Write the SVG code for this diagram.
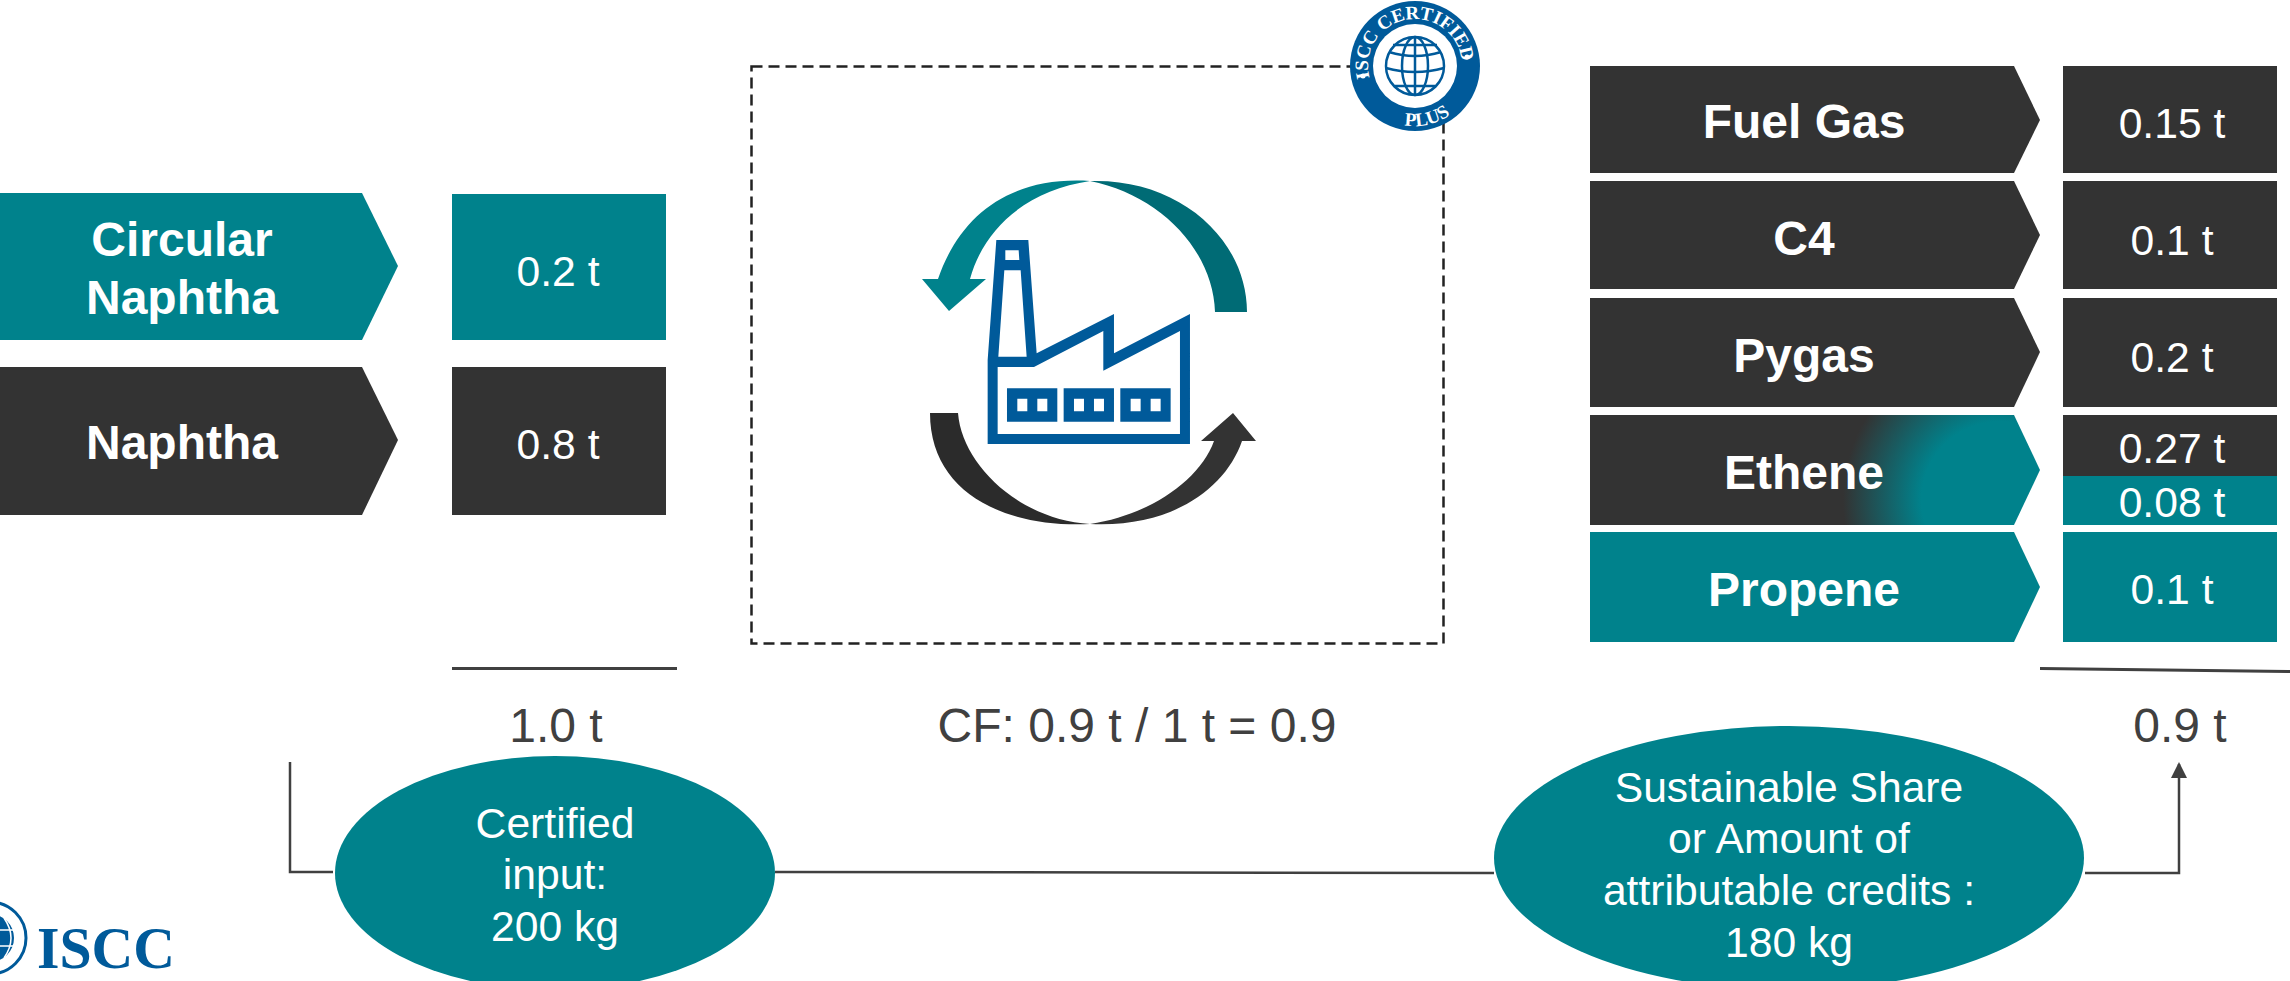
<svg xmlns="http://www.w3.org/2000/svg" width="2290" height="981" viewBox="0 0 2290 981">
<style>
text{font-family:"Liberation Sans",Arial,sans-serif;text-anchor:middle}
.lb{font-size:48px;font-weight:bold;fill:#fff}
.v{font-size:42.67px;fill:#fff}
.g{font-size:48px;fill:#404040}
.t{fill:#00828c}.d{fill:#333}
.c{fill:none;stroke:#404040;stroke-width:2.5}
.bl{fill:#005a9a}
.gl{fill:none;stroke:#005a9a}
.sf{font-family:"Liberation Serif",serif;font-weight:bold;fill:#fff}
</style>
<defs>
<radialGradient id="eth" gradientUnits="userSpaceOnUse" cx="2000" cy="500" r="157"><stop offset=".5" stop-color="#00828c"/><stop offset="1" stop-color="#333"/></radialGradient>
<marker id="ah" markerWidth="16" markerHeight="16" refX="14" refY="8" orient="auto" markerUnits="userSpaceOnUse"><path d="M0 0L16 8L0 16Z" fill="#404040"/></marker>
<path id="arcT" d="M1374.300 89.500A47 47 0 1 1 1455.700 89.500"/>
<path id="arcB" d="M1363 96A60 60 0 0 0 1467 96"/>
</defs>
<g id="node-circular-naphtha"><path class="t" d="M0 193H362L398 266L362 340H0Z"/><text class="lb"><tspan x="182" y="256">Circular</tspan><tspan x="182" y="314">Naphtha</tspan></text></g>
<g id="node-naphtha"><path class="d" d="M0 367H362L398 440L362 515H0Z"/><text class="lb" x="182" y="459">Naphtha</text></g>
<g id="node-input-02"><rect class="t" x="452" y="194" width="214" height="146"/><text class="v" x="558" y="286">0.2 t</text></g>
<g id="node-input-08"><rect class="d" x="452" y="367" width="214" height="148"/><text class="v" x="558" y="459">0.8 t</text></g>
<g id="node-total-in"><rect x="452" y="667" width="225" height="3" fill="#404040"/><text class="g" x="556" y="742">1.0 t</text></g>
<g id="node-plant">
<rect x="751.500" y="66.500" width="692" height="577" fill="none" stroke="#222" stroke-width="2.500" stroke-dasharray="11 6"/>
<path fill="#00828c" d="M1090 181C1010 176 960 215 938 279H922L949 311L986 279H970C985 225 1030 190 1090 181Z"/>
<path fill="#006b75" d="M1090 181C1180 178 1247 240 1247 312H1215C1213 250 1160 195 1090 181Z"/>
<path fill="#2b2b2b" d="M930 413H958C962 465 1020 520 1090 524C1000 528 930 490 930 413Z"/>
<path fill="#333" d="M1090 524C1170 528 1225 490 1242 441H1256L1233 413L1201 441H1214C1200 480 1150 515 1090 524Z"/>
<path class="bl" fill-rule="evenodd" transform="translate(880 160) scale(.3333)" d="M349 240H445L470 580L702 462V580L930 462V852H323V600ZM376 271V300H418L416 271ZM373 331L355 590H440L422 331ZM353 621V822H900V513L670 632V513L462 621ZM381 685H532V785H381ZM412 716V754H442V716ZM472 716V754H502V716ZM551 685H702V785H551ZM582 716V754H612V716ZM642 716V754H672V716ZM721 685H872V785H721ZM752 716V754H782V716ZM812 716V754H842V716Z"/>
</g>
<g id="node-badge">
<circle cx="1415" cy="66" r="65" fill="#005a9a"/><circle cx="1415" cy="66" r="42" fill="#fff"/>
<g class="gl" stroke-width="2.500"><circle cx="1415" cy="66" r="29"/><ellipse cx="1415" cy="66" rx="13" ry="29"/><path d="M1389 52Q1415 60 1441 52M1386 68Q1415 76 1444 68M1393 45H1437M1395 86H1435M1415 37V95"/></g>
<text class="sf" font-size="19" transform="rotate(-10 1415 66)"><textPath href="#arcT" startOffset="50%">ISCC CERTIFIED</textPath></text>
<text class="sf" font-size="19" transform="rotate(-13 1415 66)"><textPath href="#arcB" startOffset="50%">PLUS</textPath></text>
<circle cx="1363" cy="76" r="2.500" fill="#fff"/><circle cx="1467" cy="57" r="2.500" fill="#fff"/>
</g>
<text id="node-cf" class="g" x="1137" y="742">CF: 0.9 t / 1 t = 0.9</text>
<g id="node-fuel-gas"><path class="d" d="M1590 66H2014L2040 120L2014 173H1590Z"/><text class="lb" x="1804" y="138">Fuel Gas</text><rect class="d" x="2063" y="66" width="214" height="107"/><text class="v" x="2172" y="138">0.15 t</text></g>
<g id="node-c4"><path class="d" d="M1590 181H2014L2040 235L2014 289H1590Z"/><text class="lb" x="1804" y="255">C4</text><rect class="d" x="2063" y="181" width="214" height="108"/><text class="v" x="2172" y="255">0.1 t</text></g>
<g id="node-pygas"><path class="d" d="M1590 298H2014L2040 352L2014 407H1590Z"/><text class="lb" x="1804" y="372">Pygas</text><rect class="d" x="2063" y="298" width="214" height="109"/><text class="v" x="2172" y="372">0.2 t</text></g>
<g id="node-ethene"><path fill="url(#eth)" d="M1590 415H2014L2040 470L2014 525H1590Z"/><text class="lb" x="1804" y="489">Ethene</text><rect class="d" x="2063" y="415" width="214" height="61"/><rect class="t" x="2063" y="476" width="214" height="49"/><text class="v" x="2172" y="463">0.27 t</text><text class="v" x="2172" y="517">0.08 t</text></g>
<g id="node-propene"><path class="t" d="M1590 532H2014L2040 587L2014 642H1590Z"/><text class="lb" x="1804" y="606">Propene</text><rect class="t" x="2063" y="532" width="214" height="110"/><text class="v" x="2172" y="604">0.1 t</text></g>
<g id="node-total-out"><path d="M2040 667L2290 670V673L2040 670Z" fill="#404040"/><text class="g" x="2180" y="742">0.9 t</text></g>
<g id="connectors">
<path class="c" d="M290 762V872H333"/>
<path class="c" d="M775 872L1494 873"/>
<path class="c" d="M2085 873H2179V764" marker-end="url(#ah)"/>
</g>
<g id="node-certified-input"><ellipse class="t" cx="555" cy="873" rx="220" ry="117"/><text class="v"><tspan x="555" y="838">Certified</tspan><tspan x="555" y="889">input:</tspan><tspan x="555" y="941">200 kg</tspan></text></g>
<g id="node-sustainable-share"><ellipse class="t" cx="1789" cy="858" rx="295" ry="132"/><text class="v"><tspan x="1789" y="802">Sustainable Share</tspan><tspan x="1789" y="853">or Amount of</tspan><tspan x="1789" y="905">attributable credits :</tspan><tspan x="1789" y="957">180 kg</tspan></text></g>
<g id="node-logo">
<circle cx="-10" cy="938" r="36" fill="none" stroke="#005a9a" stroke-width="3"/>
<circle cx="-10" cy="938" r="24" fill="#005a9a"/>
<path d="M-10 914V962M-34 930H14M-34 946H14M4 918Q18 938 4 958" fill="none" stroke="#fff" stroke-width="1.500"/>
<text x="37" y="968" font-size="60" textLength="138" lengthAdjust="spacingAndGlyphs" font-weight="bold" fill="#005a9a" style="text-anchor:start;font-family:'Liberation Serif',serif">ISCC</text>
</g>
</svg>
